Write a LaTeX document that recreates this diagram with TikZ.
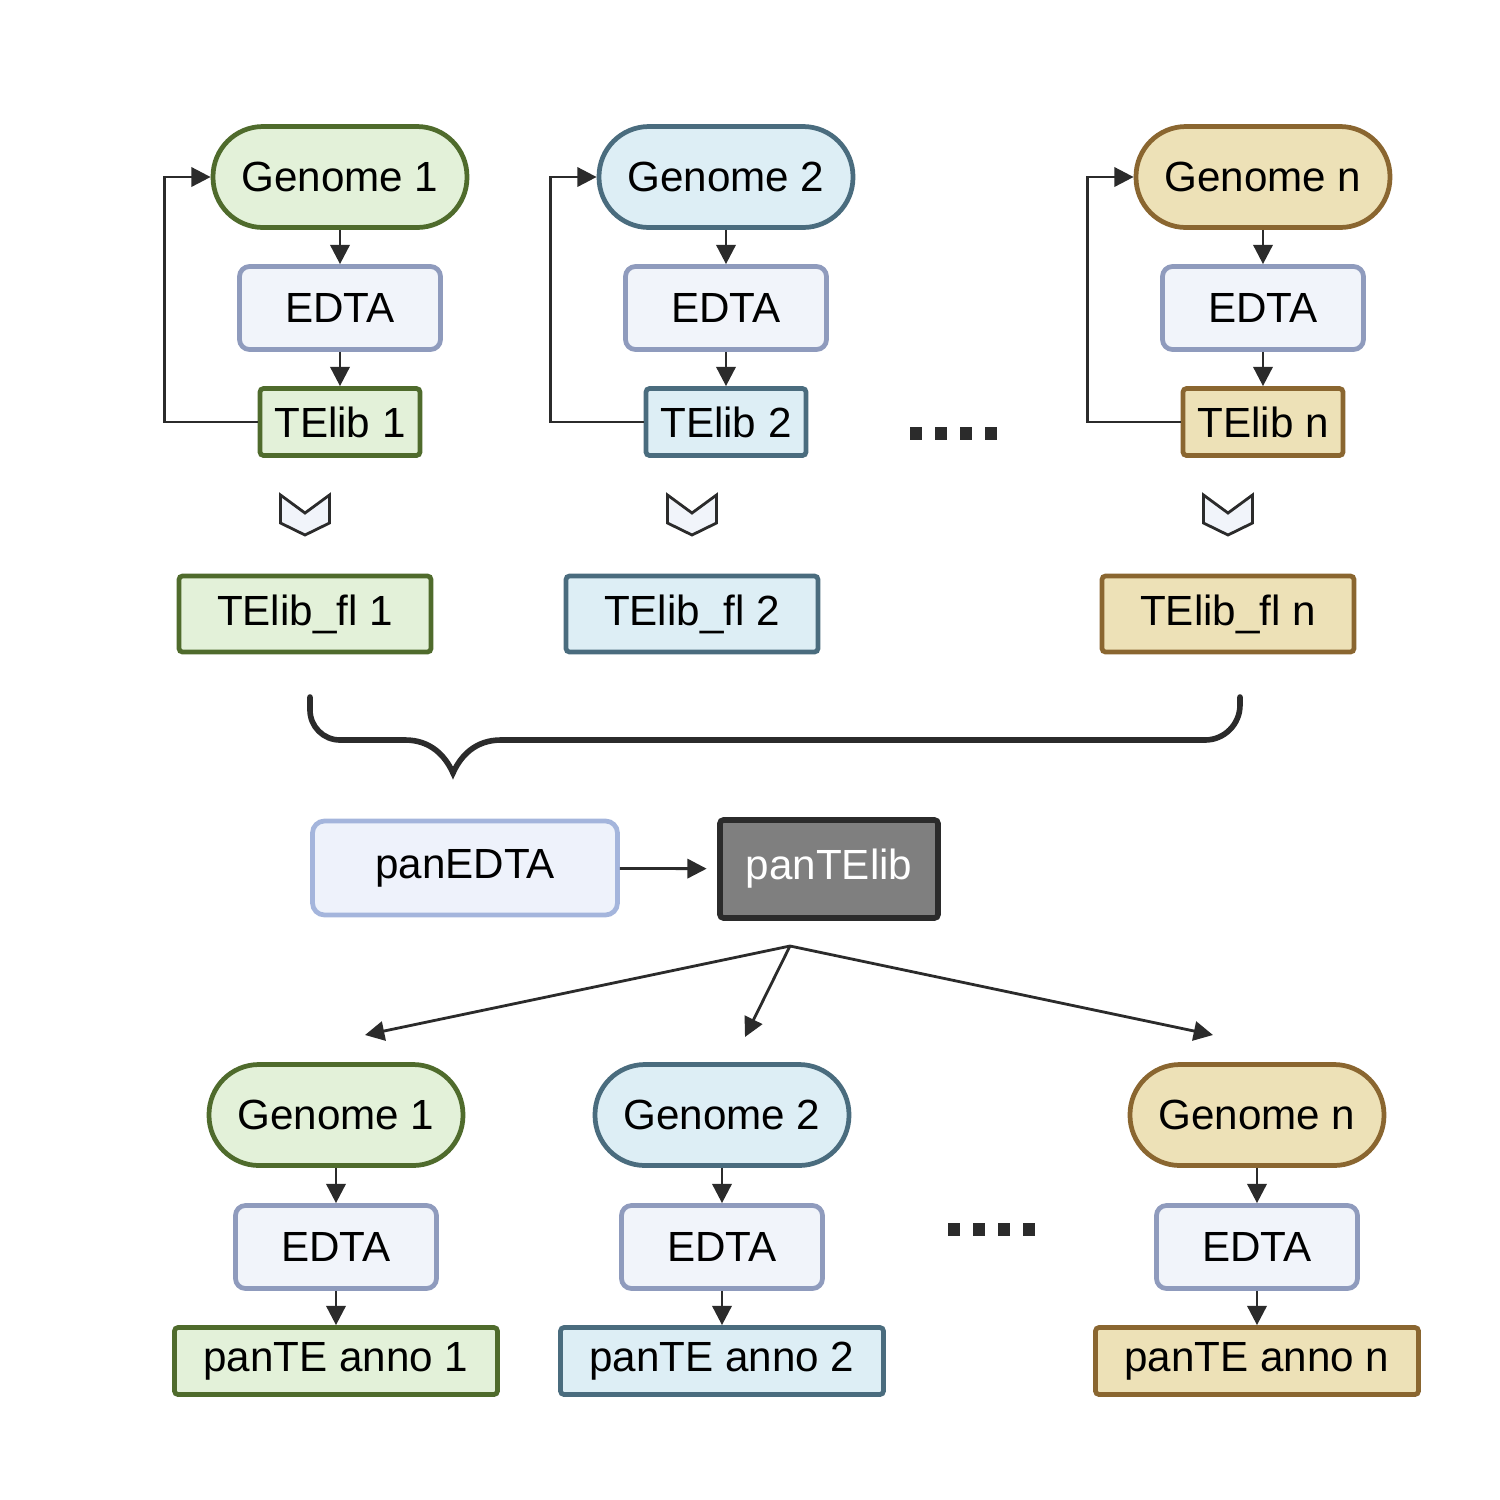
\documentclass[tikz,border=0pt]{standalone}
\usepackage{fontspec}
\setmainfont{Liberation Sans}
\usetikzlibrary{arrows.meta}

\definecolor{grnD}{HTML}{4F6B2C}
\definecolor{grnL}{HTML}{E3F1D9}
\definecolor{bluD}{HTML}{4A6C7E}
\definecolor{bluL}{HTML}{DDEEF5}
\definecolor{tanD}{HTML}{8A6630}
\definecolor{tanL}{HTML}{EDE1B7}
\definecolor{edtaD}{HTML}{8F9BBD}
\definecolor{edtaL}{HTML}{F1F4FA}
\definecolor{panD}{HTML}{A4B5DC}
\definecolor{panL}{HTML}{EEF2FB}
\definecolor{dark}{HTML}{2B2B2B}
\definecolor{libgray}{HTML}{7F7F7F}

\tikzset{
  box/.style={draw, line width=1.35pt, inner sep=0pt, font=\fontsize{12}{14}\selectfont},
  col/.style={draw=#1D, fill=#1L},
  genome/.style={box, minimum width=2.54cm, minimum height=1.01cm, rounded corners=0.5cm},
  edta/.style={box, col=edta, minimum width=2.01cm, minimum height=0.83cm, rounded corners=0.1cm},
  telib/.style={box, minimum width=1.6cm, minimum height=0.67cm, rounded corners=1pt},
  telibfl/.style={box, minimum width=2.52cm, minimum height=0.76cm, rounded corners=1pt},
  anno/.style={box, minimum width=3.23cm, minimum height=0.67cm, rounded corners=1pt},
  arr/.style={draw=dark, line width=0.8pt, -{Triangle[length=5.5pt,width=5.5pt]}},
  chev/.style={draw=dark, fill=edtaL, line width=0.8pt, line join=miter},
  brace/.style={draw=dark, line width=1.6pt, line cap=round},
  dotsq/.style={fill=dark},
}

\begin{document}
\begin{tikzpicture}
  \useasboundingbox (0,0) rectangle (15,-15);
  % first pass: one column per genome
  \foreach \i/\x/\xf/\clr in {1/3.40/3.05/grn, 2/7.26/6.92/blu, n/12.63/12.28/tan}{
    \node[genome, col=\clr] (g\i) at (\x,-1.77) {Genome \i};
    \node[edta] (e\i) at (\x,-3.08) {EDTA};
    \node[telib, col=\clr] (t\i) at (\x,-4.22) {TElib \i};
    \draw[arr] (g\i) -- (e\i);
    \draw[arr] (e\i) -- (t\i);
    \draw[arr] (t\i.west) -- ++(-0.93,0) |- (g\i.west);
    % filter step
    \draw[chev] (\xf-0.245,-4.95) -- ++(0.245,-0.18) -- ++(0.245,0.18) -- ++(0,-0.28)
      -- ++(-0.245,-0.12) -- ++(-0.245,0.12) -- cycle;
    \node[telibfl, col=\clr] (f\i) at (\xf,-6.14) {TElib\_fl \i};
  }
  \foreach \d in {0,...,3}{\fill[dotsq] (9.10+0.25*\d,-4.27) rectangle ++(0.12,-0.13);}
  % merge brace
  \draw[brace] (3.10,-6.97) -- (3.10,-7.10) arc[start angle=180, end angle=270, radius=0.3]
    -- (4.05,-7.40) .. controls (4.30,-7.40) and (4.45,-7.55) .. (4.53,-7.73)
    .. controls (4.61,-7.55) and (4.76,-7.40) .. (5.01,-7.40)
    -- (12.05,-7.40) arc[start angle=270, end angle=360, radius=0.35] -- (12.40,-6.97);
  % pan-genome library
  \node[box, draw=panD, fill=panL, minimum width=3.05cm, minimum height=0.94cm,
    rounded corners=0.12cm] (pe) at (4.65,-8.68) {panEDTA};
  \node[box, draw=dark, fill=libgray, text=white, line width=1.6pt, minimum width=2.18cm,
    minimum height=0.98cm, rounded corners=1pt] (pt) at (8.29,-8.69) {panTElib};
  \draw[arr, shorten >=3pt] (pe) -- (pt);
  % split back to genomes
  \coordinate (sp) at (7.90,-9.46);
  \coordinate (a1) at (3.65,-10.35);
  \coordinate (a2) at (7.45,-10.37);
  \coordinate (an) at (12.13,-10.35);
  \foreach \j in {a1,a2,an}{\draw[arr] (sp) -- (\j);}
  % second pass
  \foreach \i/\x/\clr in {1/3.36/grn, 2/7.22/blu, n/12.57/tan}{
    \node[genome, col=\clr] (bg\i) at (\x,-11.15) {Genome \i};
    \node[edta] (be\i) at (\x,-12.47) {EDTA};
    \node[anno, col=\clr] (pa\i) at (\x,-13.61) {panTE anno \i};
    \draw[arr] (bg\i) -- (be\i);
    \draw[arr] (be\i) -- (pa\i);
  }
  \foreach \d in {0,...,3}{\fill[dotsq] (9.48+0.25*\d,-12.23) rectangle ++(0.12,-0.13);}
\end{tikzpicture}
\end{document}
